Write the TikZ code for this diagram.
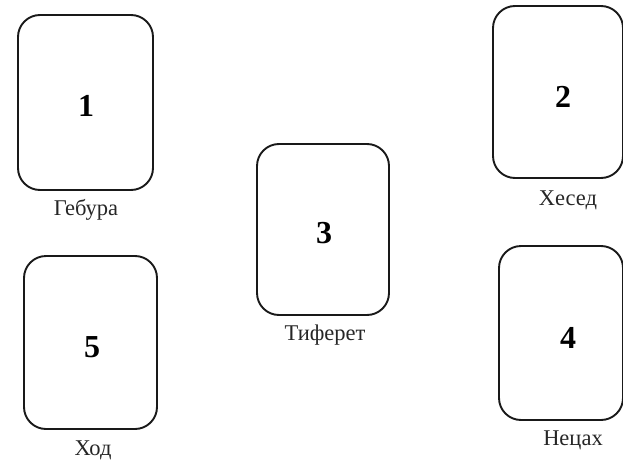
\documentclass[tikz,border=0pt]{standalone}
\usepackage{fontspec}
\setmainfont{Liberation Serif}
\begin{document}
\begin{tikzpicture}[x=1pt,y=-1pt,
  card/.style={draw=black!90,line width=1.9pt,rounded corners=22pt,rectangle,inner sep=0pt},
  num/.style={font=\fontsize{32}{32}\selectfont\bfseries},
  lbl/.style={font=\fontsize{22.5}{22.5}\selectfont,text=black!85}]
\useasboundingbox (0,0) rectangle (623,460);
\node[card,minimum width=135pt,minimum height=175pt] (c1) at (85.5,102.5) {};
\node[card,minimum width=130pt,minimum height=172pt] (c2) at (558,92) {};
\node[card,minimum width=132pt,minimum height=171pt] (c3) at (323,229.5) {};
\node[card,minimum width=124pt,minimum height=174pt] (c4) at (561,333) {};
\node[card,minimum width=133pt,minimum height=173pt] (c5) at (90.5,342.5) {};
\node[num] (n1) at (86,106) {1};
\node[num] (n2) at (563,97) {2};
\node[num] (n3) at (324,233) {3};
\node[num] (n4) at (568,338) {4};
\node[num] (n5) at (92,347) {5};
\node[lbl] (l1) at (86,210) {Гебура};
\node[lbl] (l2) at (568,200) {Хесед};
\node[lbl] (l3) at (325,335) {Тиферет};
\node[lbl] (l4) at (573,440) {Нецах};
\node[lbl] (l5) at (93,450) {Ход};
\end{tikzpicture}
\end{document}
